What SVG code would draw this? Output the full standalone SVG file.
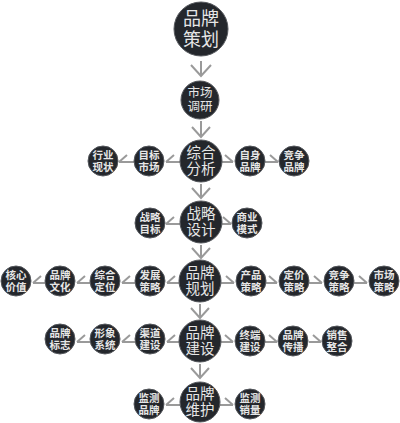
<svg xmlns="http://www.w3.org/2000/svg" width="400" height="423" viewBox="0 0 400 423">
<style>
.n{fill:#24272c;stroke:#55585d;stroke-width:1}
.t{fill:#e6e6e6;font-family:"Liberation Sans","Noto Sans CJK SC",sans-serif;text-anchor:middle;dominant-baseline:central}
.big{font-size:18px}
.mid{font-size:14.5px}
.sm{font-size:10.5px;font-weight:bold}
.c{fill:none;stroke:#9a9a9a;stroke-width:2;stroke-linecap:butt;stroke-linejoin:miter}
</style>
<rect width="400" height="423" fill="#ffffff"/>
<g id="connectors">
<path class="c" d="M201 61V76M191 65L201 76L211 65"/>
<path class="c" d="M201 121V137M192 127L201 137L210 127"/>
<path class="c" d="M201 184V198M192 188L201 198L210 188"/>
<path class="c" d="M201 245V258M192 248L201 258L210 248"/>
<path class="c" d="M200 304V318M191 308L200 318L209 308"/>
<path class="c" d="M200 364V378M191 368L200 378L209 368"/>
<path class="c" d="M180 162H166M166 162L174 155"/>
<path class="c" d="M134 162H119M119 162L127 155"/>
<path class="c" d="M222 162H233M233 162L225 155"/>
<path class="c" d="M265 162H278M278 162L270 155"/>
<path class="c" d="M180 224H166M166 224L174 217"/>
<path class="c" d="M222 224H231M231 224L223 217"/>
<path class="c" d="M179 283H167M167 283L175 276"/>
<path class="c" d="M135 283H122M122 283L130 276"/>
<path class="c" d="M90 283H77M77 283L85 276"/>
<path class="c" d="M45 283H33M33 283L41 276"/>
<path class="c" d="M221 283H234M234 283L226 276"/>
<path class="c" d="M266 283H277M277 283L269 276"/>
<path class="c" d="M309 283H322M322 283L314 276"/>
<path class="c" d="M354 283H367M367 283L359 276"/>
<path class="c" d="M179 342H167M167 342L175 335"/>
<path class="c" d="M135 342H122M122 342L130 335"/>
<path class="c" d="M90 342H77M77 342L85 335"/>
<path class="c" d="M221 342H233M233 342L225 335"/>
<path class="c" d="M265 342H277M277 342L269 335"/>
<path class="c" d="M309 342H321M321 342L313 335"/>
<path class="c" d="M180 405H166M166 405L174 398"/>
<path class="c" d="M220 405H233M233 405L225 398"/>
</g>
<g id="n-pinpaicehua"><circle class="n" cx="201" cy="29" r="27"/><text class="t big"><tspan x="201" y="18.5">品牌</tspan><tspan x="201" y="39.5">策划</tspan></text></g>
<g id="n-shichangdiaoyan"><circle class="n" cx="200" cy="100" r="19"/><text class="t" font-size="12.5"><tspan x="200" y="92.8">市场</tspan><tspan x="200" y="107.2">调研</tspan></text></g>
<g id="n-zonghefenxi"><circle class="n" cx="201" cy="161" r="21"/><text class="t mid"><tspan x="201" y="152.7">综合</tspan><tspan x="201" y="169.3">分析</tspan></text></g>
<g id="n-zhanlvesheji"><circle class="n" cx="201" cy="222" r="21"/><text class="t mid"><tspan x="201" y="213.7">战略</tspan><tspan x="201" y="230.3">设计</tspan></text></g>
<g id="n-pinpaiguihua"><circle class="n" cx="200" cy="281" r="21"/><text class="t mid"><tspan x="200" y="272.7">品牌</tspan><tspan x="200" y="289.3">规划</tspan></text></g>
<g id="n-pinpaijianshe"><circle class="n" cx="200" cy="341" r="21"/><text class="t mid"><tspan x="200" y="332.7">品牌</tspan><tspan x="200" y="349.3">建设</tspan></text></g>
<g id="n-pinpaiweihu"><circle class="n" cx="200" cy="402" r="20"/><text class="t mid"><tspan x="200" y="393.7">品牌</tspan><tspan x="200" y="410.3">维护</tspan></text></g>

<g id="n-mubiaoshichang"><circle class="n" cx="149" cy="161" r="15"/><text class="t sm"><tspan x="149" y="155">目标</tspan><tspan x="149" y="167">市场</tspan></text></g>
<g id="n-hangyexianzhuang"><circle class="n" cx="103" cy="161" r="15"/><text class="t sm"><tspan x="103" y="155">行业</tspan><tspan x="103" y="167">现状</tspan></text></g>
<g id="n-zishenpinpai"><circle class="n" cx="250" cy="161" r="15"/><text class="t sm"><tspan x="250" y="155">自身</tspan><tspan x="250" y="167">品牌</tspan></text></g>
<g id="n-jingzhengpinpai"><circle class="n" cx="294" cy="161" r="15"/><text class="t sm"><tspan x="294" y="155">竞争</tspan><tspan x="294" y="167">品牌</tspan></text></g>

<g id="n-zhanlvemubiao"><circle class="n" cx="150" cy="223" r="15"/><text class="t sm"><tspan x="150" y="217">战略</tspan><tspan x="150" y="229">目标</tspan></text></g>
<g id="n-shangyemoshi"><circle class="n" cx="247" cy="223" r="15"/><text class="t sm"><tspan x="247" y="217">商业</tspan><tspan x="247" y="229">模式</tspan></text></g>

<g id="n-fazhancelve"><circle class="n" cx="150" cy="281" r="15"/><text class="t sm"><tspan x="150" y="275">发展</tspan><tspan x="150" y="287">策略</tspan></text></g>
<g id="n-zonghedingwei"><circle class="n" cx="105" cy="281" r="15"/><text class="t sm"><tspan x="105" y="275">综合</tspan><tspan x="105" y="287">定位</tspan></text></g>
<g id="n-pinpaiwenhua"><circle class="n" cx="60" cy="281" r="15"/><text class="t sm"><tspan x="60" y="275">品牌</tspan><tspan x="60" y="287">文化</tspan></text></g>
<g id="n-hexinjiazhi"><circle class="n" cx="16" cy="281" r="15"/><text class="t sm"><tspan x="16" y="275">核心</tspan><tspan x="16" y="287">价值</tspan></text></g>
<g id="n-chanpincelve"><circle class="n" cx="251" cy="281" r="15"/><text class="t sm"><tspan x="251" y="275">产品</tspan><tspan x="251" y="287">策略</tspan></text></g>
<g id="n-dingjiacelve"><circle class="n" cx="294" cy="281" r="15"/><text class="t sm"><tspan x="294" y="275">定价</tspan><tspan x="294" y="287">策略</tspan></text></g>
<g id="n-jingzhengcelve"><circle class="n" cx="339" cy="281" r="15"/><text class="t sm"><tspan x="339" y="275">竞争</tspan><tspan x="339" y="287">策略</tspan></text></g>
<g id="n-shichangcelve"><circle class="n" cx="384" cy="281" r="15"/><text class="t sm"><tspan x="384" y="275">市场</tspan><tspan x="384" y="287">策略</tspan></text></g>

<g id="n-qudaojianshe"><circle class="n" cx="150" cy="339" r="15"/><text class="t sm"><tspan x="150" y="333">渠道</tspan><tspan x="150" y="345">建设</tspan></text></g>
<g id="n-xingxiangxitong"><circle class="n" cx="105" cy="339" r="15"/><text class="t sm"><tspan x="105" y="333">形象</tspan><tspan x="105" y="345">系统</tspan></text></g>
<g id="n-pinpaibiaozhi"><circle class="n" cx="60" cy="339" r="15"/><text class="t sm"><tspan x="60" y="333">品牌</tspan><tspan x="60" y="345">标志</tspan></text></g>
<g id="n-zhongduanjianshe"><circle class="n" cx="250" cy="341" r="15"/><text class="t sm"><tspan x="250" y="335">终端</tspan><tspan x="250" y="347">建设</tspan></text></g>
<g id="n-pinpaichuanbo"><circle class="n" cx="293" cy="341" r="15"/><text class="t sm"><tspan x="293" y="335">品牌</tspan><tspan x="293" y="347">传播</tspan></text></g>
<g id="n-xiaoshouzhenghe"><circle class="n" cx="337" cy="341" r="15"/><text class="t sm"><tspan x="337" y="335">销售</tspan><tspan x="337" y="347">整合</tspan></text></g>

<g id="n-jiancepinpai"><circle class="n" cx="149" cy="404" r="15"/><text class="t sm"><tspan x="149" y="398">监测</tspan><tspan x="149" y="410">品牌</tspan></text></g>
<g id="n-jiancexiaoliang"><circle class="n" cx="250" cy="404" r="15"/><text class="t sm"><tspan x="250" y="398">监测</tspan><tspan x="250" y="410">销量</tspan></text></g>
</svg>
